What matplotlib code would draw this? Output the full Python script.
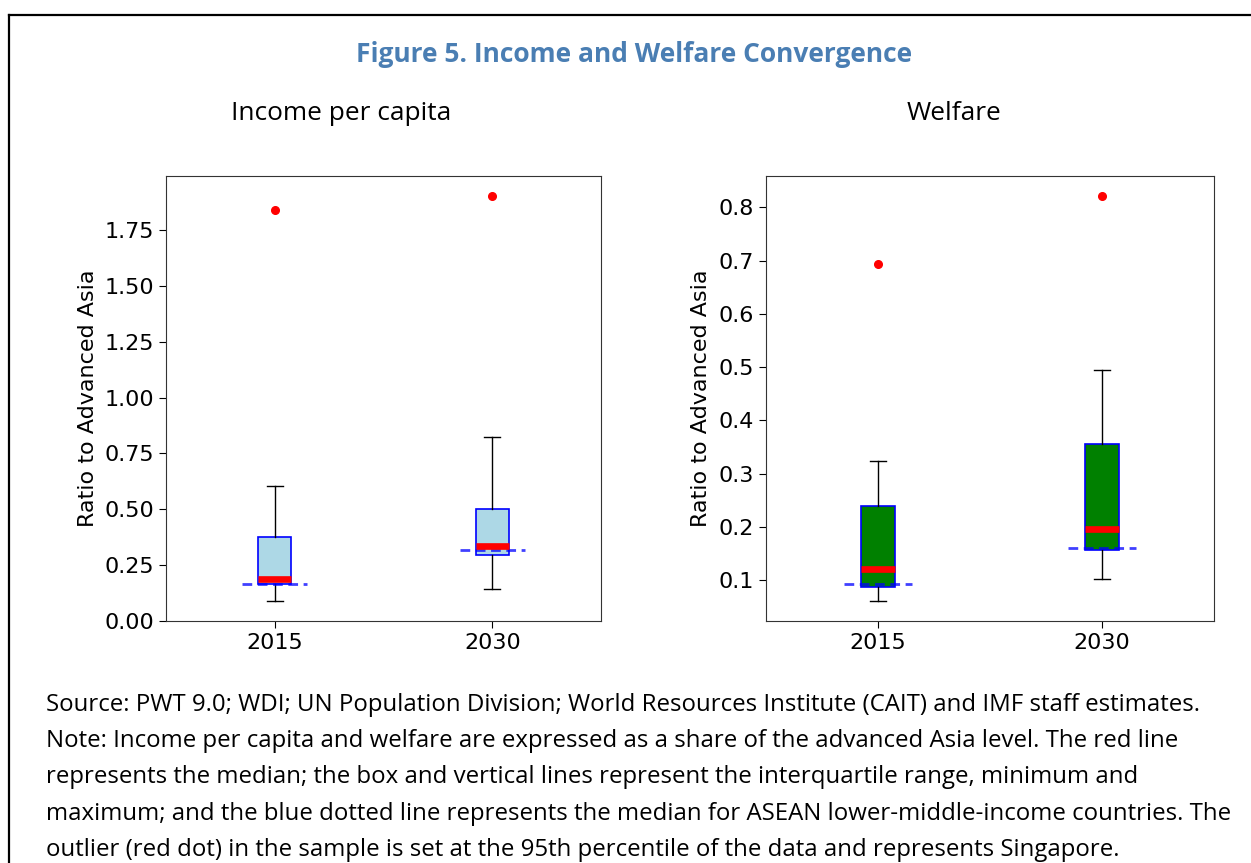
import matplotlib
matplotlib.use("Agg")
import matplotlib.pyplot as plt
from matplotlib.lines import Line2D
from matplotlib.transforms import blended_transform_factory

# ---------------- data ----------------
categories = ["2015", "2030"]

income_min = [0.090, 0.143]
income_q1 = [0.166, 0.297]
income_med = [0.188, 0.336]
income_q3 = [0.377, 0.503]
income_max = [0.603, 0.824]
income_outlier = [1.840, 1.902]
income_asean = [0.167, 0.318]

welfare_min = [0.061, 0.102]
welfare_q1 = [0.086, 0.156]
welfare_med = [0.121, 0.196]
welfare_q3 = [0.239, 0.355]
welfare_max = [0.324, 0.495]
welfare_outlier = [0.693, 0.821]
welfare_asean = [0.093, 0.160]

income_yticks = [0.0, 0.25, 0.5, 0.75, 1.0, 1.25, 1.5, 1.75]
income_yticklabels = ["0.00", "0.25", "0.50", "0.75", "1.00", "1.25", "1.50", "1.75"]
welfare_yticks = [0.1, 0.2, 0.3, 0.4, 0.5, 0.6, 0.7, 0.8]
welfare_yticklabels = ["0.1", "0.2", "0.3", "0.4", "0.5", "0.6", "0.7", "0.8"]

title = "Figure 5. Income and Welfare Convergence"
panel_titles = ["Income per capita", "Welfare"]
ylabel = "Ratio to Advanced Asia"
note_lines = [
    "Source: PWT 9.0; WDI; UN Population Division; World Resources Institute (CAIT) and IMF staff estimates.",
    "Note: Income per capita and welfare are expressed as a share of the advanced Asia level. The red line",
    "represents the median; the box and vertical lines represent the interquartile range, minimum and",
    "maximum; and the blue dotted line represents the median for ASEAN lower-middle-income countries. The",
    "outlier (red dot) in the sample is set at the 95th percentile of the data and represents Singapore.",
]

# ---------------- figure ----------------
W, H = 1251, 863
fig = plt.figure(figsize=(W / 100, H / 100), dpi=100)
fig.patch.set_facecolor("white")

TXT_FONT = ["Open Sans", "DejaVu Sans"]


def fx(px):
    return px / W


def fy(py):
    return 1 - py / H


# frame around the figure
fig.add_artist(Line2D([fx(9), fx(9)], [fy(15), -0.01], color="black", lw=1.6, transform=fig.transFigure))
fig.add_artist(Line2D([fx(9), 1.01], [fy(15), fy(15)], color="black", lw=1.6, transform=fig.transFigure))

fig.text(fx(634), fy(54), title, ha="center", va="center", fontsize=19, fontweight="bold",
         color="#4A7EB3", family=TXT_FONT)

panels = [
    dict(rect=[fx(166), fy(621), fx(601) - fx(166), fy(176) - fy(621)],
         mins=income_min, q1=income_q1, med=income_med, q3=income_q3, maxs=income_max,
         out=income_outlier, asean=income_asean, face="lightblue",
         yticks=income_yticks, yticklabels=income_yticklabels,
         title_x=341, ylab_x=98),
    dict(rect=[fx(766), fy(621), fx(1214) - fx(766), fy(176) - fy(621)],
         mins=welfare_min, q1=welfare_q1, med=welfare_med, q3=welfare_q3, maxs=welfare_max,
         out=welfare_outlier, asean=welfare_asean, face="green",
         yticks=welfare_yticks, yticklabels=welfare_yticklabels,
         title_x=954, ylab_x=711),
]

for i, p in enumerate(panels):
    ax = fig.add_axes(p["rect"])
    stats = []
    for j, cat in enumerate(categories):
        stats.append(dict(label=cat, whislo=p["mins"][j], q1=p["q1"][j], med=p["med"][j],
                          q3=p["q3"][j], whishi=p["maxs"][j], fliers=[p["out"][j]]))
    positions = list(range(1, len(categories) + 1))
    ax.bxp(stats, positions=positions, widths=0.15, patch_artist=True, showfliers=True,
           boxprops=dict(facecolor=p["face"], edgecolor="blue", linewidth=1.2),
           medianprops=dict(color="red", linewidth=4.8, zorder=5),
           whiskerprops=dict(color="black", linewidth=1.0),
           capprops=dict(color="black", linewidth=1.0),
           flierprops=dict(marker="o", markerfacecolor="red", markeredgecolor="red",
                           markersize=5.5, linestyle="none"))
    for j, pos in enumerate(positions):
        ax.plot([pos - 0.15, pos + 0.15], [p["asean"][j]] * 2, color="blue", alpha=0.75,
                linewidth=2, linestyle=(0, (3.5, 2)), zorder=4)
    ax.set_xlim(0.5, 2.5)
    ax.set_xticks(positions)
    ax.set_xticklabels(categories)
    ax.set_yticks(p["yticks"])
    ax.set_yticklabels(p["yticklabels"])
    ax.tick_params(labelsize=16, length=5)
    ax.set_ylabel(ylabel, fontsize=16)
    tr = blended_transform_factory(fig.transFigure, ax.transAxes)
    ax.yaxis.set_label_coords(fx(p["ylab_x"]), 0.5, transform=tr)
    for s in ax.spines.values():
        s.set_color("#333333")
    fig.text(fx(p["title_x"]), fy(114), panel_titles[i], ha="center", va="center",
             fontsize=18.9, family=TXT_FONT)

for k, line in enumerate(note_lines):
    fig.text(fx(46), fy(705 + 36.2 * k), line, ha="left", va="center", fontsize=17.3,
             family=TXT_FONT)

fig.savefig("out.png", dpi=100)
